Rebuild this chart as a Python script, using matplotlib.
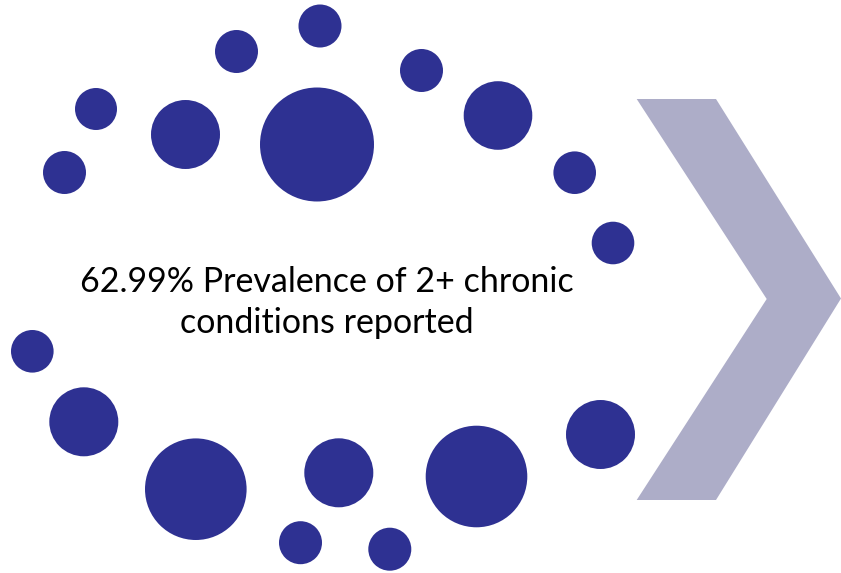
import matplotlib.pyplot as plt
from matplotlib.patches import Circle, Polygon

# Bubble layout (pixel coords, y from top)
bubble_x = [320, 236.5, 421.5, 96, 185.5, 317, 498, 64.5, 574.7, 613,
            32.3, 83.8, 600.5, 195.8, 338.8, 476.5, 300.5, 389.8]
bubble_y = [26, 51.5, 70.5, 109, 134.5, 144.5, 115.5, 172.5, 172.7, 243,
            351.3, 421.8, 434.5, 489.2, 472.8, 476.5, 542.7, 549.2]
bubble_r = [21.5, 21.5, 21.5, 21, 34.5, 57, 34.3, 21.5, 21.3, 21.3,
            21.3, 34.5, 34.5, 50.8, 34.5, 50.8, 21.5, 21.5]

# Chevron outline
chevron_x = [636.7, 716, 841, 716, 636.7, 766.7]
chevron_y = [99, 99, 298.5, 500, 500, 299]

lines = ['62.99% Prevalence of 2+ chronic', 'conditions reported']
line_y = [292, 333]

W, H = 841, 573
fig = plt.figure(figsize=(W / 100, H / 100), dpi=100)
ax = fig.add_axes([0, 0, 1, 1])
ax.set_xlim(0, W)
ax.set_ylim(H, 0)
ax.set_aspect('equal')
ax.axis('off')

ax.add_patch(Polygon(list(zip(chevron_x, chevron_y)), closed=True,
                     facecolor='#adadc8', edgecolor='none'))

for x, y, r in zip(bubble_x, bubble_y, bubble_r):
    ax.add_patch(Circle((x, y), r, facecolor='#2e3192', edgecolor='none'))

for txt, y in zip(lines, line_y):
    ax.text(327, y, txt, ha='center', va='baseline', fontsize=24.5,
            family='Lato', color='black')

fig.savefig('out.png', dpi=100)
